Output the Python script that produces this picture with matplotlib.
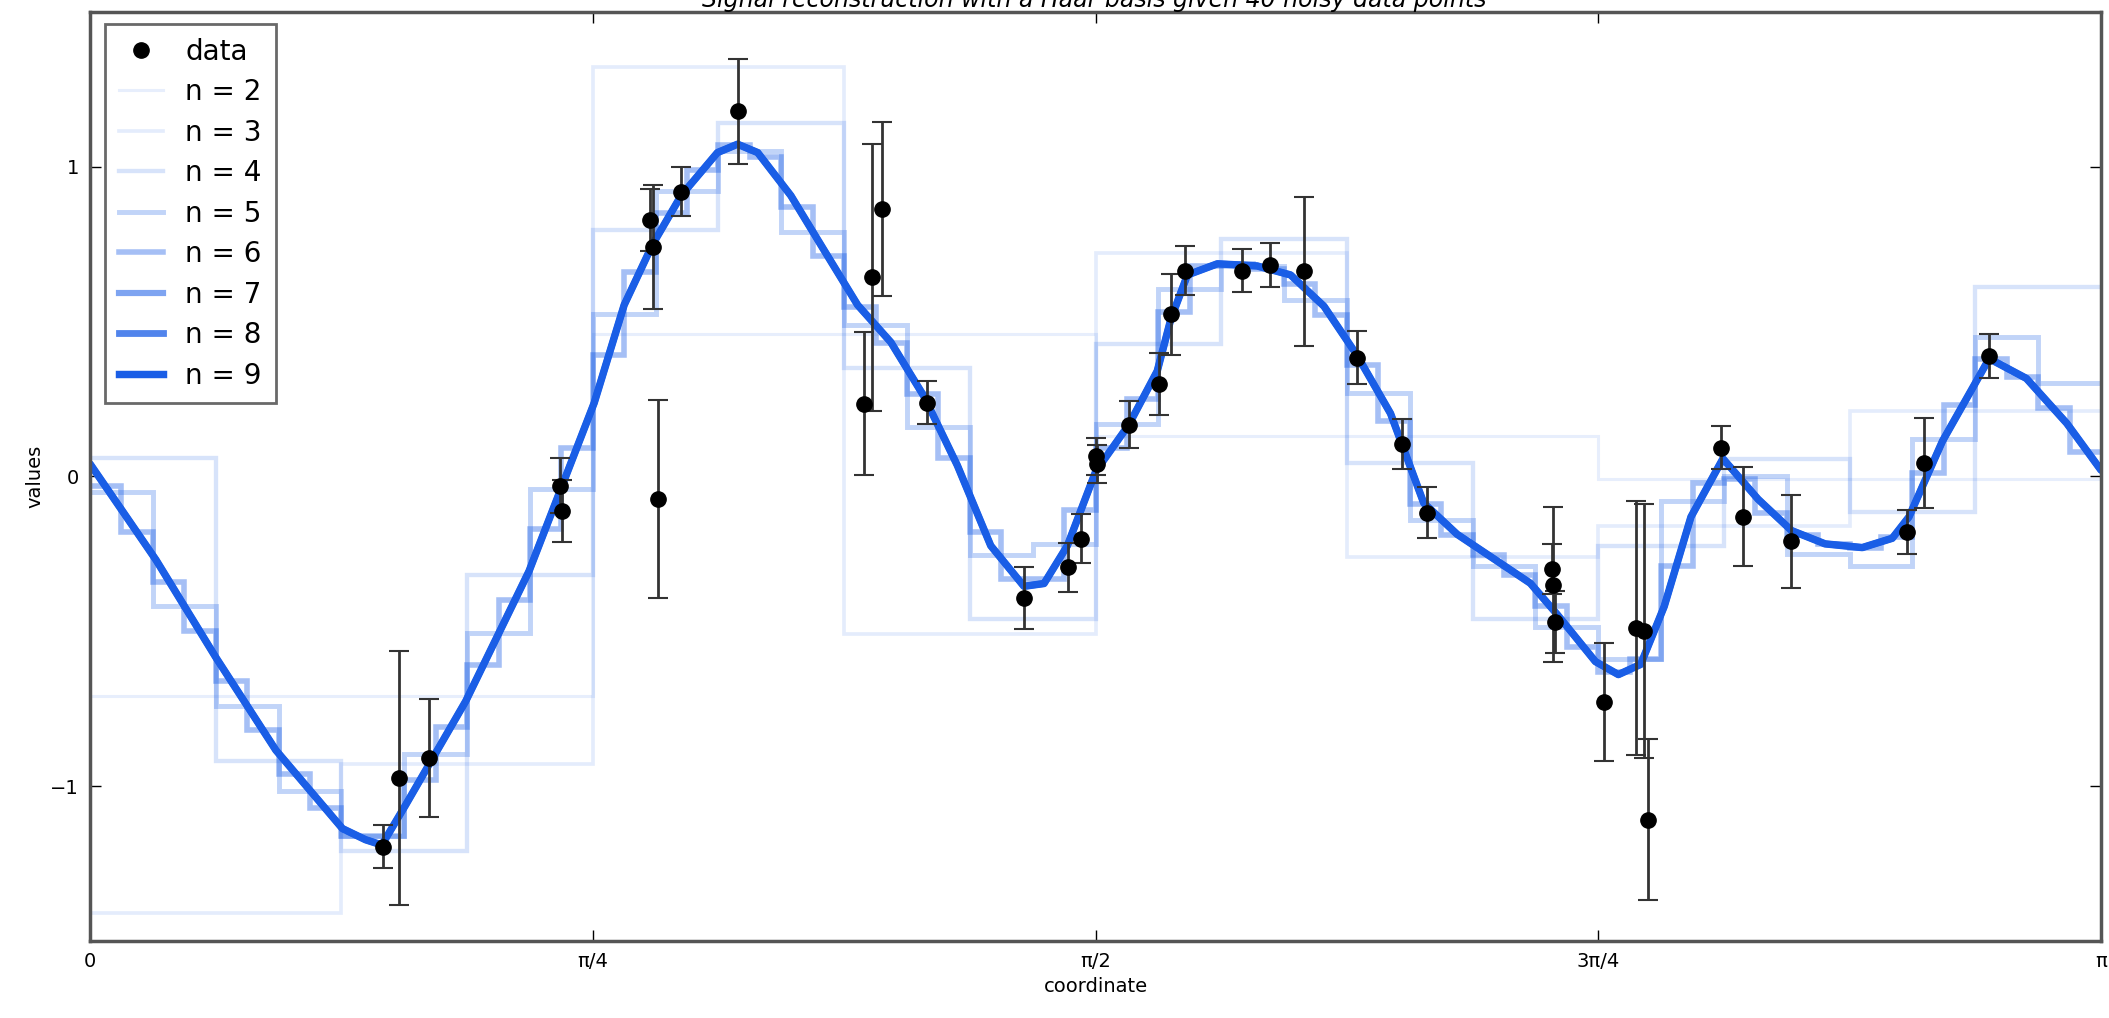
import numpy as np
import matplotlib
matplotlib.use("Agg")
import matplotlib.pyplot as plt
from matplotlib.lines import Line2D

# ---------------- data ----------------
title = "Signal reconstruction with a Haar basis given 40 noisy data points"

# noisy data points (x in radians)
data_x = [0.457, 0.483, 0.530, 0.734, 0.737, 0.875, 0.879, 0.887, 0.923, 1.012,
          1.209, 1.222, 1.237, 1.308, 1.459, 1.528, 1.548, 1.571, 1.573, 1.623,
          1.670, 1.689, 1.711, 1.800, 1.844, 1.896, 1.980, 2.050, 2.089, 2.284,
          2.286, 2.288, 2.365, 2.415, 2.428, 2.434, 2.548, 2.582, 2.658, 2.839,
          2.865, 2.967]
data_y = [-1.195, -0.975, -0.91, -0.03, -0.113, 0.828, 0.739, -0.073, 0.919, 1.178,
          0.235, 0.642, 0.863, 0.238, -0.392, -0.294, -0.201, 0.065, 0.04, 0.167,
          0.297, 0.523, 0.664, 0.664, 0.682, 0.662, 0.383, 0.105, -0.117, -0.30,
          -0.35, -0.47, -0.728, -0.49, -0.50, -1.109, 0.093, -0.13, -0.21, -0.18,
          0.043, 0.388]
data_err = [0.07, 0.41, 0.19, 0.09, 0.10, 0.10, 0.20, 0.32, 0.08, 0.17,
            0.23, 0.43, 0.28, 0.07, 0.10, 0.08, 0.08, 0.06, 0.06, 0.075,
            0.10, 0.13, 0.08, 0.07, 0.07, 0.24, 0.086, 0.08, 0.083, 0.08,
            0.25, 0.10, 0.19, 0.41, 0.41, 0.26, 0.07, 0.16, 0.15, 0.07,
            0.145, 0.07]

# finest reconstruction (n = 9), read as a smooth curve; x as fraction of pi
fine_u = [0.0, 0.0162, 0.0328, 0.0626, 0.0924, 0.1255, 0.137, 0.1451, 0.157, 0.1868,
          0.2183, 0.2507, 0.2656, 0.2797, 0.2939, 0.312, 0.322, 0.332, 0.3485, 0.365,
          0.3817, 0.3982, 0.4148, 0.4313, 0.4479, 0.4644, 0.4744, 0.486, 0.5001, 0.5166,
          0.5307, 0.5374, 0.5457, 0.5606, 0.5804, 0.597, 0.6136, 0.6301, 0.6467, 0.6632,
          0.6798, 0.6964, 0.7162, 0.7296, 0.7486, 0.76, 0.7711, 0.7828, 0.7961, 0.812,
          0.8295, 0.8461, 0.8628, 0.8813, 0.8962, 0.9045, 0.9212, 0.9444, 0.9629, 0.983,
          1.0]
fine_v = [0.04, -0.113, -0.27, -0.585, -0.884, -1.137, -1.173, -1.19, -1.06, -0.726,
          -0.306, 0.237, 0.553, 0.748, 0.906, 1.045, 1.072, 1.045, 0.906, 0.73,
          0.553, 0.433, 0.257, 0.035, -0.224, -0.355, -0.346, -0.224, 0.016, 0.167,
          0.34, 0.506, 0.65, 0.686, 0.679, 0.65, 0.549, 0.39, 0.203, -0.086,
          -0.187, -0.259, -0.345, -0.446, -0.598, -0.64, -0.607, -0.42, -0.131, 0.057,
          -0.074, -0.175, -0.218, -0.23, -0.2, -0.131, 0.114, 0.38, 0.316, 0.171,
          0.02]

# coarser piecewise-constant reconstructions (2**n equal bins over [0, pi])
level2 = [-0.71, 0.46, 0.13, -0.01]
level3 = [-1.41, -0.93, 1.32, -0.51, 0.72, -0.26, -0.16, 0.21]
level4 = [0.06, -0.92, -1.21, -0.32, 0.795, 1.14, 0.35, -0.46,
          0.426, 0.765, 0.044, -0.46, -0.225, 0.056, -0.116, 0.61]
level5 = [-0.05, -0.42, -0.74, -1.015, -1.16, -0.895, -0.505, -0.04,
          0.525, 0.92, 1.05, 0.79, 0.49, 0.16, -0.255, -0.22,
          0.17, 0.605, 0.68, 0.57, 0.27, -0.14, -0.29, -0.485,
          -0.59, -0.08, 0.0, -0.25, -0.29, 0.12, 0.45, 0.30]
level6 = [-0.03, -0.18, -0.34, -0.50, -0.66, -0.82, -0.96, -1.07,
          -1.16, -1.16, -0.98, -0.81, -0.61, -0.40, -0.17, 0.09,
          0.39, 0.66, 0.85, 0.99, 1.07, 1.03, 0.87, 0.71,
          0.545, 0.43, 0.265, 0.06, -0.18, -0.33, -0.33, -0.11,
          0.09, 0.25, 0.53, 0.68, 0.685, 0.67, 0.62, 0.52,
          0.36, 0.18, -0.09, -0.19, -0.255, -0.32, -0.42, -0.55,
          -0.63, -0.59, -0.29, -0.02, -0.01, -0.12, -0.19, -0.22,
          -0.23, -0.195, 0.01, 0.23, 0.38, 0.32, 0.22, 0.08]

levels = [2, 3, 4, 5, 6, 7, 8, 9]
step_levels = {2: level2, 3: level3, 4: level4, 5: level5, 6: level6}

tick_labels = ["0", "\u03c0/4", "\u03c0/2", "3\u03c0/4", "\u03c0"]

# ---------------- plot ----------------
plt.rcParams["font.family"] = ["DejaVu Sans"]
fig = plt.figure(figsize=(21.09, 10.18), dpi=100)
ax = fig.add_axes([0.0427, 0.0756, 0.9535, 0.913])

base = np.array([0.10, 0.37, 0.90])
fine_x = np.array(fine_u) * np.pi

handles = [Line2D([], [], ls="none", marker="o", color="black", markersize=11)]
labels = ["data"]
for n in levels:
    t = (n - 2) / 7.0
    alpha = 0.10 + 0.90 * t ** 2
    lw = 2.2 + 0.45 * (n - 2)
    col = (*base, alpha)
    if n in step_levels:
        vals = np.array(step_levels[n])
        edges = np.linspace(0, np.pi, len(vals) + 1)
        ax.stairs(vals, edges, baseline=None, color=col, lw=lw)
    else:
        ax.plot(fine_x, fine_v, color=col, lw=lw,
                solid_joinstyle="round", solid_capstyle="round")
    handles.append(Line2D([], [], color=col, lw=lw))
    labels.append("n = %d" % n)

ax.errorbar(data_x, data_y, yerr=data_err, fmt="o", color="black", ecolor="#333333",
            elinewidth=2.0, capsize=7, capthick=1.5, markersize=11, zorder=5)

ax.set_xlim(0, np.pi)
ax.set_ylim(-1.5, 1.5)
ax.set_xticks(np.linspace(0, np.pi, 5))
ax.set_xticklabels(tick_labels)
ax.set_yticks([-1, 0, 1])
ax.set_yticklabels(["\u22121", "0", "1"])
ax.tick_params(direction="in", top=True, right=True, length=8, width=1,
               labelsize=14, pad=8)
for s in ax.spines.values():
    s.set_linewidth(2.5)
    s.set_color("#555555")
ax.set_xlabel("coordinate", fontsize=14)
ax.set_ylabel("values", fontsize=14)

leg = ax.legend(handles, labels, loc="upper left", fontsize=20, numpoints=1,
                handlelength=1.6, labelspacing=0.45, borderpad=0.5, fancybox=False,
                borderaxespad=0.0, bbox_to_anchor=(0.0074, 0.987))
leg.get_frame().set_edgecolor("#444444")
leg.get_frame().set_linewidth(2)

fig.text(0.519, 1.0, title, ha="center", va="center", fontsize=17, style="italic")

fig.savefig("out.png", dpi=100)
